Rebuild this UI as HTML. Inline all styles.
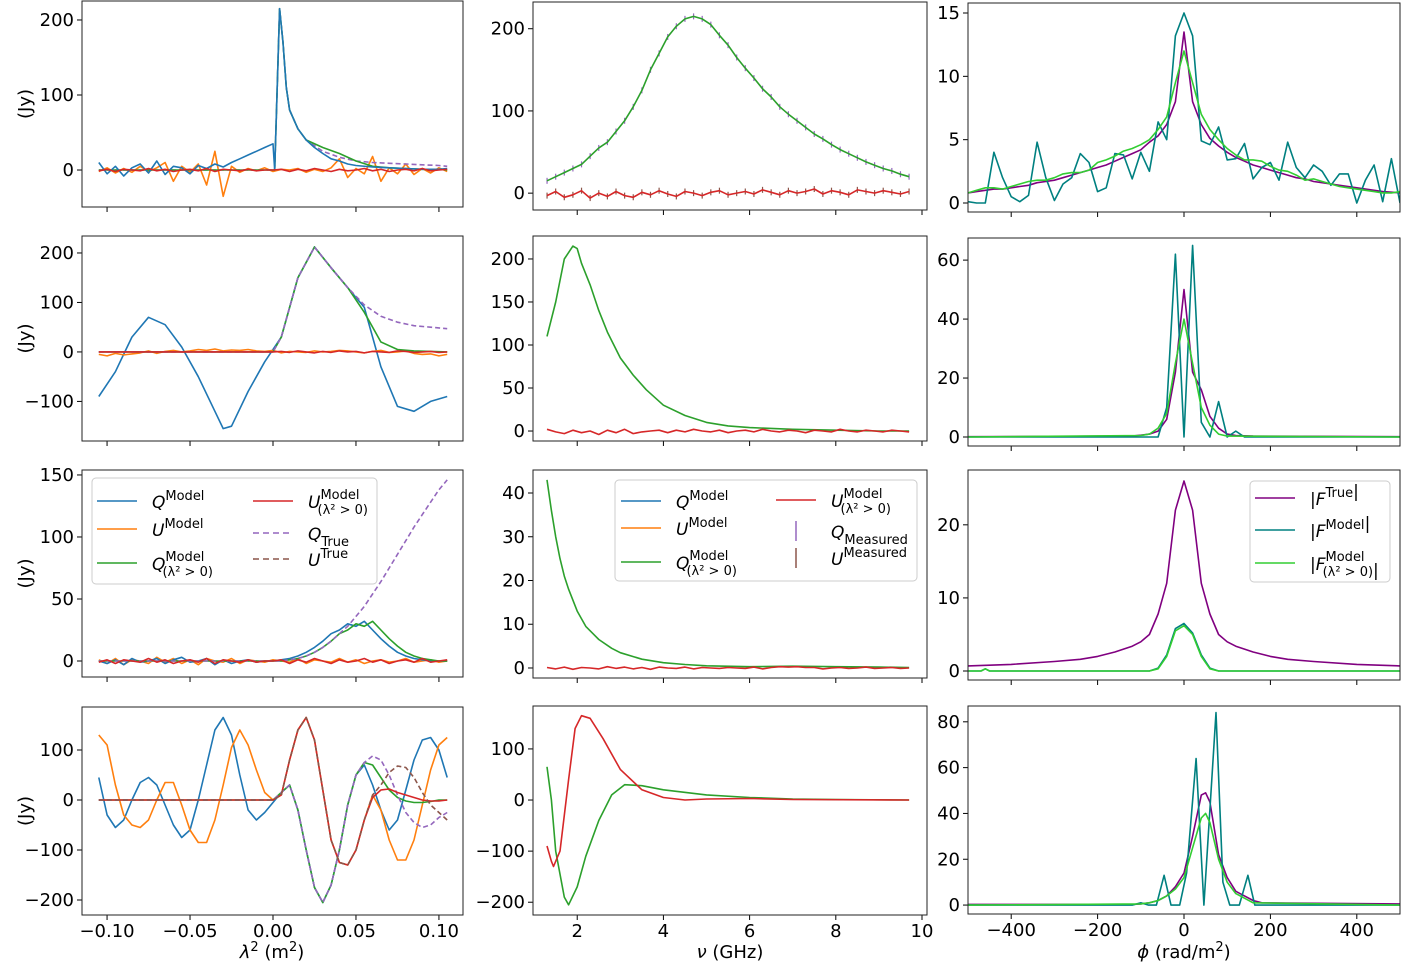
<!DOCTYPE html>
<html><head><meta charset="utf-8"><style>
html,body{margin:0;padding:0;background:#fff;}
svg{display:block;font-family:"DejaVu Sans","Liberation Sans",sans-serif;}
</style></head><body>
<svg id="fig" width="1401" height="966" viewBox="0 0 1401 966" xmlns="http://www.w3.org/2000/svg"></svg>
<script>
// ---------- data ----------
const lam=[-0.105,-0.1,-0.095,-0.09,-0.085,-0.08,-0.075,-0.07,-0.065,-0.06,-0.055,-0.05,-0.045,-0.04,-0.035,-0.03,-0.025,-0.02,-0.015,-0.01,-0.005,0,0.005,0.01,0.015,0.02,0.025,0.03,0.035,0.04,0.045,0.05,0.055,0.06,0.065,0.07,0.075,0.08,0.085,0.09,0.095,0.1,0.105];
const nu=[1.3,1.5,1.7,1.9,2.1,2.3,2.5,2.7,2.9,3.1,3.3,3.5,3.7,3.9,4.1,4.3,4.5,4.7,4.9,5.1,5.3,5.5,5.7,5.9,6.1,6.3,6.5,6.7,6.9,7.1,7.3,7.5,7.7,7.9,8.1,8.3,8.5,8.7,8.9,9.1,9.3,9.5,9.7];
const phi=[-500,-480,-460,-440,-420,-400,-380,-360,-340,-320,-300,-280,-260,-240,-220,-200,-180,-160,-140,-120,-100,-80,-60,-40,-20,0,20,40,60,80,100,120,140,160,180,200,220,240,260,280,300,320,340,360,380,400,420,440,460,480,500];
const noiseA=[-1,1,-2,1,0,-1,2,-1,1,-2,0,1,-1,2,-2,1,0,-1,1,-1,0,0,1,-2,1,-1,2,0,-2,1,-1,0,2,-1,1,-2,0,1,-1,2,-1,0,1];

// row 1 left
const q1x=[-0.105,-0.1,-0.095,-0.09,-0.085,-0.08,-0.075,-0.07,-0.065,-0.06,-0.055,-0.05,-0.045,-0.04,-0.035,-0.03,-0.025,-0.02,-0.015,-0.01,-0.005,0,0.001,0.004,0.006,0.008,0.01,0.015,0.02,0.025,0.03,0.035,0.04,0.045,0.05,0.06,0.07,0.08,0.09,0.1,0.105];
const q1=[10,-5,5,-8,3,8,-4,12,-6,5,3,-5,6,2,8,4,10,15,20,25,30,35,0,215,170,110,80,55,40,30,22,15,12,8,6,4,3,2,1,1,2];
const qt1x=[-0.105,0,0.001,0.004,0.006,0.008,0.01,0.015,0.02,0.03,0.04,0.05,0.06,0.07,0.08,0.09,0.1,0.105];
const qt1=[0,0,0,215,170,110,80,55,40,25,17,12,10,9,8,7,6,5];
const qg1=[0,0,0,215,170,110,80,55,40,30,22,12,5,3,2,1,1,0];
const u1=[-2,3,-4,2,-3,5,-2,3,10,-15,5,-3,8,-20,25,-35,5,-3,2,-1,3,-2,1,0,2,-3,1,-2,3,15,-10,2,-5,18,-15,3,-5,8,-6,2,-4,3,-2];
// row 1 middle
const m1=[15,20,25,30,35,45,55,62,75,88,105,125,150,170,190,203,212,215,212,205,192,180,165,152,140,127,117,105,96,88,80,72,66,59,53,48,43,38,34,30,27,23,20];
const m1r=[-3,2,-5,-2,3,-6,0,-4,2,-3,-5,1,-2,3,-1,-4,2,0,-3,1,3,-2,0,2,-1,4,1,-2,3,0,2,5,-1,3,1,-2,4,2,0,3,1,-1,2];
// row 1 right
const p1=[0.8,0.9,1.0,1.1,1.1,1.2,1.3,1.4,1.6,1.7,1.8,2.0,2.2,2.4,2.6,2.8,3.0,3.3,3.6,3.9,4.2,4.8,5.3,6.2,8.0,13.5,8.0,6.2,5.1,4.5,4.0,3.6,3.3,3.0,2.8,2.6,2.4,2.2,2.0,1.9,1.7,1.6,1.5,1.4,1.3,1.2,1.1,1.0,0.9,0.85,0.8];
const g1=[0.8,1.0,1.2,1.2,1.1,1.3,1.5,1.7,1.8,1.8,2.0,2.3,2.4,2.4,2.6,3.2,3.4,3.7,4.1,4.3,4.6,5.0,5.8,6.8,9.5,12.0,9.5,7.0,5.8,5.0,4.3,3.8,3.4,3.4,3.3,2.9,2.6,2.5,2.2,1.8,1.9,1.7,1.5,1.3,1.2,1.1,1.0,0.9,0.8,0.8,0.9];
const t1=[0.1,0,0,4.0,2,0.5,0.1,0.6,4.8,2,0.2,1.5,2,3.9,3.2,0.9,1.2,3.9,3.8,1.9,4.0,2.5,6.4,5.0,13.2,15,13.2,4.9,4.6,6.0,3.4,3.5,4.7,1.9,2.8,3.2,1.8,4.8,2.8,2.0,3.0,2.5,1.4,2.3,2.3,0,1.8,3.0,0.1,3.5,0];

// row 2 left
const q2x=[-0.105,-0.095,-0.085,-0.075,-0.065,-0.055,-0.045,-0.035,-0.03,-0.025,-0.015,-0.005,0.005,0.015,0.025,0.035,0.045,0.055,0.065,0.075,0.085,0.095,0.105];
const q2=[-90,-40,30,70,55,10,-50,-120,-155,-150,-80,-20,30,150,212,170,130,90,-30,-110,-120,-100,-90];
const qt2x=[-0.105,0,0.005,0.015,0.025,0.035,0.045,0.055,0.065,0.075,0.085,0.095,0.105];
const qt2=[0,0,30,150,212,170,130,95,72,60,53,50,47];
const qg2=[0,0,30,150,212,170,130,80,20,5,2,1,0];
const u2=[-5,-8,-3,-6,-4,-2,2,-3,1,3,0,2,5,3,6,2,4,3,5,2,1,3,-2,1,0,-1,2,0,1,3,2,0,-2,1,3,-1,0,2,-3,-5,-4,-8,-5];
const u2r=[0,0,0,0,0,0,0,0,0,0,0,0,0,0,0,0,0,0,0,0,0,0,1,-1,2,0,-2,1,-1,2,0,1,-2,1,0,-1,2,1,-1,0,1,-1,0];
// row 2 middle
const m2x=[1.3,1.5,1.7,1.9,2.0,2.1,2.3,2.5,2.7,3.0,3.3,3.6,4.0,4.5,5.0,5.5,6.0,7.0,8.0,9.0,9.7];
const m2=[110,150,200,215,212,195,170,140,115,85,65,48,30,18,10,6,4,2,1,0,0];
const m2r=[2,-1,-3,1,-2,0,-4,1,-2,2,-3,-1,0,1,-2,1,-1,2,0,-1,1,-2,0,1,-1,2,0,-1,1,0,-2,1,0,-1,2,0,-1,1,0,-1,1,0,-1];
// row 2 right
const p2x=[-500,-120,-100,-80,-60,-40,-20,0,20,40,60,80,100,120,160,500];
const p2=[0.1,0.3,0.6,1,2,6,22,50,22,16,7,3,1,0.5,0.3,0.1];
const t2x=[-500,-80,-60,-40,-20,0,20,40,60,80,100,120,140,160,500];
const t2=[0,0,0,10,62,0,65,5,0,12,0,2,0,0,0];
const g2x=[-500,-100,-80,-60,-40,-20,0,20,40,60,80,100,500];
const g2=[0,0.5,1,3,8,25,40,25,10,4,1,0.3,0];

// row 3 left
const q3x=[-0.105,0.005,0.01,0.015,0.02,0.025,0.03,0.035,0.04,0.045,0.05,0.055,0.06,0.065,0.07,0.075,0.08,0.085,0.09,0.095,0.1,0.105];
const qt3=[0,0,1,2,4,7,11,16,22,28,36,44,54,64,75,86,97,108,118,128,138,146];
const qg3=[0,0,1,2,4,7,11,16,22,25,30,28,32,25,18,12,7,4,2,1,0,0];
const q3=[0,-2,1,-3,2,-1,0,2,-2,1,3,-1,0,2,-3,1,-2,0,1,-1,0,0,1,2,4,7,11,16,22,25,30,28,32,25,18,12,7,4,2,1,0,0,0];
const u3=[1,-2,2,-3,1,0,-2,3,-1,2,-2,1,-3,2,0,-1,2,-2,1,0,-1,1,0,-1,2,-2,1,0,-1,2,-1,1,-2,0,1,-1,0,2,-1,0,1,-1,0];
// row 3 middle
const m3x=[1.3,1.4,1.5,1.6,1.7,1.8,2.0,2.2,2.5,2.8,3.0,3.5,4.0,4.5,5,6,7,8,9,9.7];
const m3=[43,36,30,25,21,18,13,9.5,6.5,4.5,3.5,2,1.2,0.8,0.5,0.3,0.4,0.3,0.2,0.1];
const m3r=[0.1,-0.2,0.2,-0.3,0.1,0,-0.2,0.3,-0.1,0.2,-0.2,0.1,-0.3,0.2,0,-0.1,0.2,-0.2,0.1,0,-0.1,0.1,0,-0.1,0.2,-0.2,0.1,0.3,0.2,0.3,0.1,0.1,-0.2,0,0.1,-0.1,0,0.2,-0.1,0,0.1,-0.1,0];
// row 3 right
const p3x=[-500,-400,-300,-240,-200,-160,-140,-120,-100,-80,-60,-40,-20,0,20,40,60,80,100,120,140,160,200,240,300,400,500];
const p3=[0.7,0.9,1.3,1.6,2.0,2.6,3.0,3.4,4.0,5.0,7.8,12,22,26,22,12,7.8,5,4,3.4,3,2.6,2,1.6,1.3,0.9,0.7];
const g3x=[-500,-470,-460,-450,-80,-60,-40,-20,0,20,40,60,80,500];
const g3=[0,0,0.3,0,0,0.3,2,5.5,6.2,5,2,0.3,0,0];
const t3=[0,0,0.3,0,0,0.4,2.2,5.8,6.5,5.2,2.2,0.4,0,0];

// row 4 left
const x4=[-0.105,-0.1,-0.095,-0.09,-0.085,-0.08,-0.075,-0.07,-0.065,-0.06,-0.055,-0.05,-0.045,-0.04,-0.035,-0.03,-0.025,-0.02,-0.015,-0.01,-0.005,0,0.005,0.01,0.015,0.02,0.025,0.03,0.035,0.04,0.045,0.05,0.055,0.06,0.065,0.07,0.075,0.08,0.085,0.09,0.095,0.1,0.105];
const q4=[45,-30,-55,-40,0,35,45,30,-10,-50,-75,-60,0,70,140,165,130,50,-20,-40,-25,-5,15,30,-20,-100,-175,-205,-170,-100,-10,50,70,30,-20,-60,-40,20,80,120,125,100,45];
const u4=[130,110,30,-30,-50,-55,-40,0,35,35,-10,-60,-85,-85,-40,30,105,140,110,60,15,0,10,80,140,165,120,20,-80,-125,-130,-100,-40,10,-20,-80,-120,-120,-80,-10,60,110,125];
const u4r=[0,0,0,0,0,0,0,0,0,0,0,0,0,0,0,0,0,0,0,0,0,0,10,80,140,165,120,20,-80,-125,-130,-100,-40,5,20,22,15,10,5,0,-2,-2,0];
const ut4=[0,0,0,0,0,0,0,0,0,0,0,0,0,0,0,0,0,0,0,0,0,0,10,80,140,165,120,20,-80,-125,-130,-100,-40,10,30,55,68,65,45,15,-10,-25,-40];
const qt4=[0,0,0,0,0,0,0,0,0,0,0,0,0,0,0,0,0,0,0,0,0,0,15,30,-20,-100,-175,-205,-170,-100,-10,50,75,88,80,50,10,-25,-45,-55,-50,-35,-25];
const qg4=[0,0,0,0,0,0,0,0,0,0,0,0,0,0,0,0,0,0,0,0,0,0,15,30,-20,-100,-175,-205,-170,-100,-10,50,75,70,45,20,5,-2,-5,-5,-3,0,0];
// row 4 middle
const m4gx=[1.3,1.4,1.5,1.7,1.8,2.0,2.2,2.5,2.8,3.1,3.5,4,5,6,7,8,9.7];
const m4g=[65,0,-100,-190,-205,-170,-110,-40,10,30,28,20,10,5,2,1,0];
const m4rx=[1.3,1.4,1.45,1.6,1.8,1.95,2.1,2.3,2.6,3,3.5,4,4.5,5,6,7,9.7];
const m4r=[-90,-120,-130,-100,40,140,165,160,120,60,20,5,0,2,3,1,0];
// row 4 right
const p4x=[-500,-120,-100,-80,-60,-40,-20,0,20,40,50,60,80,100,120,140,160,180,500];
const p4=[0.3,0.3,0.5,1,2,4,8,14,30,48,49,45,22,12,6,4,2,1,0.5];
const g4x=[-500,-100,-80,-60,-40,-20,0,20,40,50,60,80,100,120,140,160,500];
const g4=[0,0.5,1,2,4,7,12,25,38,40,36,20,10,5,3,1,0];
const t4x=[-500,-120,-100,-82,-64,-46,-30,-10,6,28,46,74,90,106,128,148,164,500];
const t4=[0,0,1,0,0,13,0,0,14,64,0,84,10,0,0,13,0,0];

// ---------- layout ----------
const svg=document.getElementById('fig');
const NS='http://www.w3.org/2000/svg';
function el(tag,attrs,parent){const e=document.createElementNS(NS,tag);for(const k in attrs)e.setAttribute(k,attrs[k]);(parent||svg).appendChild(e);return e;}
const colL={x0:82,x1:463,xmin:-0.1151,xmax:0.1145,ticks:[-0.1,-0.05,0,0.05,0.1],labels:['−0.10','−0.05','0.00','0.05','0.10']};
const colM={x0:533,x1:927,xmin:0.974,xmax:10.116,ticks:[2,4,6,8,10],labels:['2','4','6','8','10']};
const colR={x0:968,x1:1400,xmin:-500,xmax:500,ticks:[-400,-200,0,200,400],labels:['−400','−200','0','200','400']};
function mk(col,y0,y1,ymin,ymax,yt,name){return Object.assign({},col,{y0,y1,ymin,ymax,yt,name});}
const P={
 r1L:mk(colL,1,207,-49.3,225.3,[0,100,200],'q-u-lambda-row1'),
 r1M:mk(colM,2,210,-20.5,232.5,[0,100,200],'q-u-nu-row1'),
 r1R:mk(colR,3,212,-0.71,15.79,[0,5,10,15],'faraday-row1'),
 r2L:mk(colL,236,441,-180,234.3,[-100,0,100,200],'q-u-lambda-row2'),
 r2M:mk(colM,236,441,-11.6,226.7,[0,50,100,150,200],'q-u-nu-row2'),
 r2R:mk(colR,238,446,-3.05,67.5,[0,20,40,60],'faraday-row2'),
 r3L:mk(colL,470,677,-12.9,154,[0,50,100,150],'q-u-lambda-row3'),
 r3M:mk(colM,470,678,-2.29,45.26,[0,10,20,30,40],'q-u-nu-row3'),
 r3R:mk(colR,470,680,-1.23,27.5,[0,10,20],'faraday-row3'),
 r4L:mk(colL,707,915,-230,186,[-200,-100,0,100],'q-u-lambda-row4'),
 r4M:mk(colM,706,915,-225,184,[-200,-100,0,100],'q-u-nu-row4'),
 r4R:mk(colR,706,914,-3.9,86.9,[0,20,40,60,80],'faraday-row4')
};
const sx=(p,v)=>p.x0+(v-p.xmin)/(p.xmax-p.xmin)*(p.x1-p.x0);
const sy=(p,v)=>p.y1-(v-p.ymin)/(p.ymax-p.ymin)*(p.y1-p.y0);
const groups={};
for(const k in P){
 const p=P[k];
 const g=el('g',{});
 
 
 groups[k]=g;
 const cid='clip-'+k;
 const cp=el('clipPath',{id:cid},g);el('rect',{x:p.x0,y:p.y0,width:p.x1-p.x0,height:p.y1-p.y0},cp);
 p.plot=el('g',{'clip-path':'url(#'+cid+')'},g);
 const ax=el('g',{},g);
 
 
 p.yt.forEach(v=>{const y=sy(p,v);el('line',{x1:p.x0-5,x2:p.x0,y1:y,y2:y,stroke:'#000','stroke-width':1},ax);
  const t=el('text',{x:p.x0-8,y:y+6,'text-anchor':'end','font-size':18,fill:'#000'},ax);t.textContent=(v<0?'−'+(-v):String(v));
  
  });
 p.ticks.forEach((v,i)=>{const x=sx(p,v);el('line',{x1:x,x2:x,y1:p.y1,y2:p.y1+5,stroke:'#000','stroke-width':1},ax);
  if(k.startsWith('r4')){const t=el('text',{x:x,y:p.y1+22,'text-anchor':'middle','font-size':18,fill:'#000'},ax);t.textContent=p.labels[i];
  
  }});
 p.frame=el('rect',{x:p.x0,y:p.y0,width:p.x1-p.x0,height:p.y1-p.y0,fill:'none',stroke:'#222','stroke-width':1},g);
 if(k.endsWith('L')){const t=el('text',{x:0,y:0,'font-size':18,'text-anchor':'middle',transform:`translate(31,${(p.y0+p.y1)/2}) rotate(-90)`},g);t.textContent='(Jy)';
  
  }
}
function line(k,xs,ys,color,name,dash,w){
 const p=P[k];let d='';const n=Math.min(xs.length,ys.length);
 for(let i=0;i<n;i++)d+=(i?'L':'M')+sx(p,xs[i]).toFixed(1)+','+sy(p,ys[i]).toFixed(1);
 const e=el('path',{d:d,fill:'none',stroke:color,'stroke-width':w||1.6,'stroke-linejoin':'round'},p.plot);
 if(dash)e.setAttribute('stroke-dasharray',dash);
 
 
}
function ticksMarks(k,xs,ys,color,name){
 const p=P[k];const g=el('g',{},p.plot);
 
 
 for(let i=0;i<Math.min(xs.length,ys.length);i++){const x=sx(p,xs[i]),y=sy(p,ys[i]);el('line',{x1:x,x2:x,y1:y-3,y2:y+3,stroke:color,'stroke-width':1.2},g);}
}
const B='#1f77b4',O='#ff7f0e',G='#2ca02c',R='#d62728',PU='#9467bd',BR='#8c564b',MAG='#800080',TE='#008080',LG='#32cd32';
const zeros=lam.map(()=>0);
// row1
line('r1L',lam,u1,O,'u-model-line');
line('r1L',qt1x,qt1,PU,'q-true-line','5,3');
line('r1L',qt1x,qg1,G,'q-positive-line');
line('r1L',q1x,q1,B,'q-model-line');
line('r1L',lam,noiseA,R,'u-positive-line');
ticksMarks('r1M',nu,m1,PU,'q-measured-marks');
ticksMarks('r1M',nu,m1r,BR,'u-measured-marks');
line('r1M',nu,m1,G,'q-model-line');
line('r1M',nu,m1r,R,'u-model-line');
line('r1R',phi,p1,MAG,'f-true-line');
line('r1R',phi,t1,TE,'f-model-line');
line('r1R',phi,g1,LG,'f-positive-line');
// row2
line('r2L',q2x,q2,B,'q-model-line');
line('r2L',lam,u2,O,'u-model-line');
line('r2L',qt2x,qg2,G,'q-positive-line');
line('r2L',qt2x,qt2,PU,'q-true-line','5,3');
line('r2L',lam,u2r,R,'u-positive-line');
line('r2M',m2x,m2,G,'q-model-line');
line('r2M',nu,m2r,R,'u-model-line');
line('r2R',p2x,p2,MAG,'f-true-line');
line('r2R',t2x,t2,TE,'f-model-line');
line('r2R',g2x,g2,LG,'f-positive-line');
// row3
line('r3L',lam,u3,O,'u-model-line');
line('r3L',lam,q3,B,'q-model-line');
line('r3L',q3x,qg3,G,'q-positive-line');
line('r3L',q3x,qt3,PU,'q-true-line','5,3');
line('r3L',lam,noiseA,R,'u-positive-line');
line('r3M',m3x,m3,G,'q-model-line');
line('r3M',nu,m3r,R,'u-model-line');
line('r3R',p3x,p3,MAG,'f-true-line');
line('r3R',g3x,t3,TE,'f-model-line');
line('r3R',g3x,g3,LG,'f-positive-line');
// row4
line('r4L',x4,q4,B,'q-model-line');
line('r4L',x4,u4,O,'u-model-line');
line('r4L',x4,qg4,G,'q-positive-line');
line('r4L',x4,qt4,PU,'q-true-line','5,3');
line('r4L',x4,u4r,R,'u-positive-line');
line('r4L',x4,ut4,BR,'u-true-line','5,3');
line('r4M',m4gx,m4g,G,'q-model-line');
line('r4M',m4rx,m4r,R,'u-model-line');
line('r4R',p4x,p4,MAG,'f-true-line');
line('r4R',t4x,t4,TE,'f-model-line');
line('r4R',g4x,g4,LG,'f-positive-line');

// x axis titles
[['λ',272,'lambda-sq-axis-title',' (m','2',')','2'],['ν',730,'nu-axis-title',' (GHz)'],['ϕ',1184,'phi-axis-title',' (rad/m','2',')']].forEach(a=>{
 const t=el('text',{x:a[1],y:958,'text-anchor':'middle','font-size':18});
 
 
 if(a[0]==='λ'){t.innerHTML='<tspan font-style="italic">λ</tspan><tspan dy="-7" font-size="13">2</tspan><tspan dy="7"> (m</tspan><tspan dy="-7" font-size="13">2</tspan><tspan dy="7">)</tspan>';}
 else if(a[0]==='ν'){t.innerHTML='<tspan font-style="italic">ν</tspan> (GHz)';}
 else {t.innerHTML='<tspan font-style="italic">ϕ</tspan> (rad/m<tspan dy="-7" font-size="13">2</tspan><tspan dy="7">)</tspan>';}
});

// legends
function legend(x,y,w,h,name){const g=el('g',{});
 el('rect',{x:x,y:y,width:w,height:h,rx:4,fill:'#fff','fill-opacity':0.85,stroke:'#ccc','stroke-width':1},g);return g;}
function entry(g,x,y,color,dash,html,name,vert){
 const e=el('g',{},g);
 if(vert)el('line',{x1:x+20,x2:x+20,y1:y-10,y2:y+10,stroke:color,'stroke-width':1.5},e);
 else{const l=el('line',{x1:x,x2:x+40,y1:y,y2:y,stroke:color,'stroke-width':1.6},e);if(dash)l.setAttribute('stroke-dasharray',dash);}
 const t=el('text',{x:x+55,y:y+7,'font-size':17},e);t.innerHTML=html;}
const sup=s=>`<tspan dy="-8" font-size="13">${s}</tspan><tspan dy="8"></tspan>`;
const sub=s=>`<tspan dy="6" font-size="13">${s}</tspan><tspan dy="-6"></tspan>`;
const both=s=>`<tspan dy="-9" font-size="13">Model</tspan><tspan dx="-42" dy="15" font-size="13">(λ² &gt; 0)</tspan><tspan dy="-6"></tspan>`;
const lg1=legend(92,478,285,106,'legend-lambda');
entry(lg1,97,501,B,null,'<tspan font-style="italic">Q</tspan>'+sup('Model'),'legend-q-model');
entry(lg1,97,529,O,null,'<tspan font-style="italic">U</tspan>'+sup('Model'),'legend-u-model');
entry(lg1,97,563,G,null,'<tspan font-style="italic">Q</tspan>'+both(),'legend-q-positive');
entry(lg1,253,501,R,null,'<tspan font-style="italic">U</tspan>'+both(),'legend-u-positive');
entry(lg1,253,533,PU,'6,4','<tspan font-style="italic">Q</tspan>'+sub('True'),'legend-q-true');
entry(lg1,253,559,BR,'6,4','<tspan font-style="italic">U</tspan>'+sup('True'),'legend-u-true');
const lg2=legend(615,480,302,101,'legend-nu');
entry(lg2,621,501,B,null,'<tspan font-style="italic">Q</tspan>'+sup('Model'),'legend-q-model');
entry(lg2,621,528,O,null,'<tspan font-style="italic">U</tspan>'+sup('Model'),'legend-u-model');
entry(lg2,621,562,G,null,'<tspan font-style="italic">Q</tspan>'+both(),'legend-q-positive');
entry(lg2,776,500,R,null,'<tspan font-style="italic">U</tspan>'+both(),'legend-u-positive');
entry(lg2,776,531,PU,null,'<tspan font-style="italic">Q</tspan>'+sub('Measured'),'legend-q-measured',true);
entry(lg2,776,558,BR,null,'<tspan font-style="italic">U</tspan>'+sup('Measured'),'legend-u-measured',true);
const lg3=legend(1250,481,140,101,'legend-faraday');
entry(lg3,1255,498,MAG,null,'|<tspan font-style="italic">F</tspan>'+sup('True')+'|','legend-f-true');
entry(lg3,1255,530,TE,null,'|<tspan font-style="italic">F</tspan>'+sup('Model')+'|','legend-f-model');
entry(lg3,1255,563,LG,null,'|<tspan font-style="italic">F</tspan>'+both()+'|','legend-f-positive');
</script>
</body></html>
